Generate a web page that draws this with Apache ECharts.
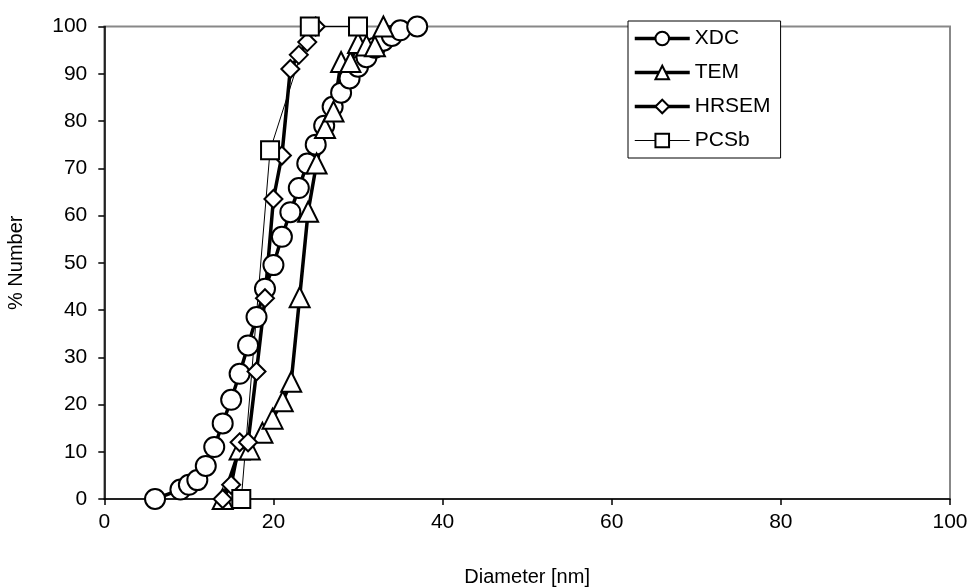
<!DOCTYPE html>
<html>
<head>
<meta charset="utf-8">
<script src="https://cdn.jsdelivr.net/npm/echarts@6/dist/echarts.min.js"></script>
<style>html,body{margin:0;padding:0;background:#fff}#c{width:973px;height:587px}</style>
</head>
<body>
<div id="c"></div>
<script>
const xdcX = [6, 9, 10, 11, 12, 13, 14, 15, 16, 17, 18, 19, 20, 21, 22, 23, 24, 25, 26, 27, 28, 29, 30, 31, 32, 33, 34, 35, 37];
const xdcY = [0, 2, 3, 4, 7, 11, 16, 21, 26.5, 32.5, 38.5, 44.5, 49.5, 55.5, 60.7, 65.8, 71, 75, 79, 83, 86, 89, 91.5, 93.5, 95.5, 97, 98, 99.2, 100];
const temX = [14, 16, 17.2, 18.7, 19.9, 21.1, 22.1, 23.1, 24.1, 25.1, 26.1, 27.1, 28, 29.1, 30, 31, 32, 33];
const temY = [0, 10.5, 10.5, 14, 17, 20.7, 24.8, 42.7, 60.8, 71, 78.5, 82, 92.5, 92.5, 96.5, 96, 95.8, 100];
const hrsemX = [14, 15, 16, 17, 18, 19, 20, 21, 22, 23, 24, 25];
const hrsemY = [0, 3, 12, 12, 27, 42.5, 63.5, 72.7, 91, 94, 96.7, 100];
const pcsX = [16.2, 19.6, 24.3, 30];
const pcsY = [0, 73.8, 100, 100];
const xTicks = [0, 20, 40, 60, 80, 100];
const yTicks = [0, 10, 20, 30, 40, 50, 60, 70, 80, 90, 100];

const pairs = (xs, ys) => xs.map((x, i) => [x, ys[i]]);
const FONT = "'Liberation Sans', Arial, sans-serif";
const chart = echarts.init(document.getElementById('c'));

function mk(name, xs, ys, symbol, size, width) {
  return {
    name, type: 'line', data: pairs(xs, ys), symbol, symbolSize: size,
    lineStyle: { color: '#000', width },
    itemStyle: { color: '#fff', borderColor: '#000', borderWidth: 2 },
    emphasis: { disabled: true }, animation: false
  };
}

chart.setOption({
  animation: false,
  grid: { left: 104.3, right: 23, top: 26.5, bottom: 88, containLabel: false, outerBoundsMode: 'none',
          show: true, borderColor: '#888', borderWidth: 2, backgroundColor: 'transparent' },
  legend: {
    orient: 'vertical', left: 628, top: 21,
    backgroundColor: '#fff', borderColor: '#000', borderWidth: 1,
    padding: [7, 10, 7, 5], itemWidth: 55, itemHeight: 17, itemGap: 13,
    textStyle: { fontFamily: FONT, fontSize: 21, color: '#000' },
    data: [
      { name: 'XDC', lineStyle: { width: 3.5, color: '#000' } },
      { name: 'TEM', lineStyle: { width: 3.5, color: '#000' } },
      { name: 'HRSEM', lineStyle: { width: 3.5, color: '#000' } },
      { name: 'PCSb', lineStyle: { width: 1, color: '#000' } }
    ]
  },
  xAxis: {
    type: 'value', min: xTicks[0], max: xTicks[xTicks.length - 1], interval: xTicks[1] - xTicks[0],
    name: 'Diameter [nm]', nameLocation: 'middle', nameGap: 68,
    nameTextStyle: { fontFamily: FONT, fontSize: 20, color: '#000' },
    axisLine: { lineStyle: { color: '#000', width: 1.5 } },
    axisTick: { inside: false, length: 6, lineStyle: { color: '#000', width: 1.5 } },
    axisLabel: { fontFamily: FONT, fontSize: 21, color: '#000', margin: 13 },
    splitLine: { show: false }
  },
  yAxis: {
    type: 'value', min: yTicks[0], max: yTicks[yTicks.length - 1], interval: yTicks[1] - yTicks[0],
    name: '% Number', nameLocation: 'middle', nameGap: 78,
    nameTextStyle: { fontFamily: FONT, fontSize: 20, color: '#000' },
    axisLine: { show: true, lineStyle: { color: '#000', width: 1.5 } },
    axisTick: { show: true, inside: false, length: 6, lineStyle: { color: '#000', width: 1.5 } },
    axisLabel: { fontFamily: FONT, fontSize: 21, color: '#000', margin: 17 },
    splitLine: { show: false }
  },
  series: [
    mk('XDC', xdcX, xdcY, 'circle', 20, 3.5),
    mk('TEM', temX, temY, 'triangle', 20, 3.5),
    mk('HRSEM', hrsemX, hrsemY, 'diamond', 18, 3.5),
    mk('PCSb', pcsX, pcsY, 'rect', 18, 1)
  ]
});
</script>
</body>
</html>
